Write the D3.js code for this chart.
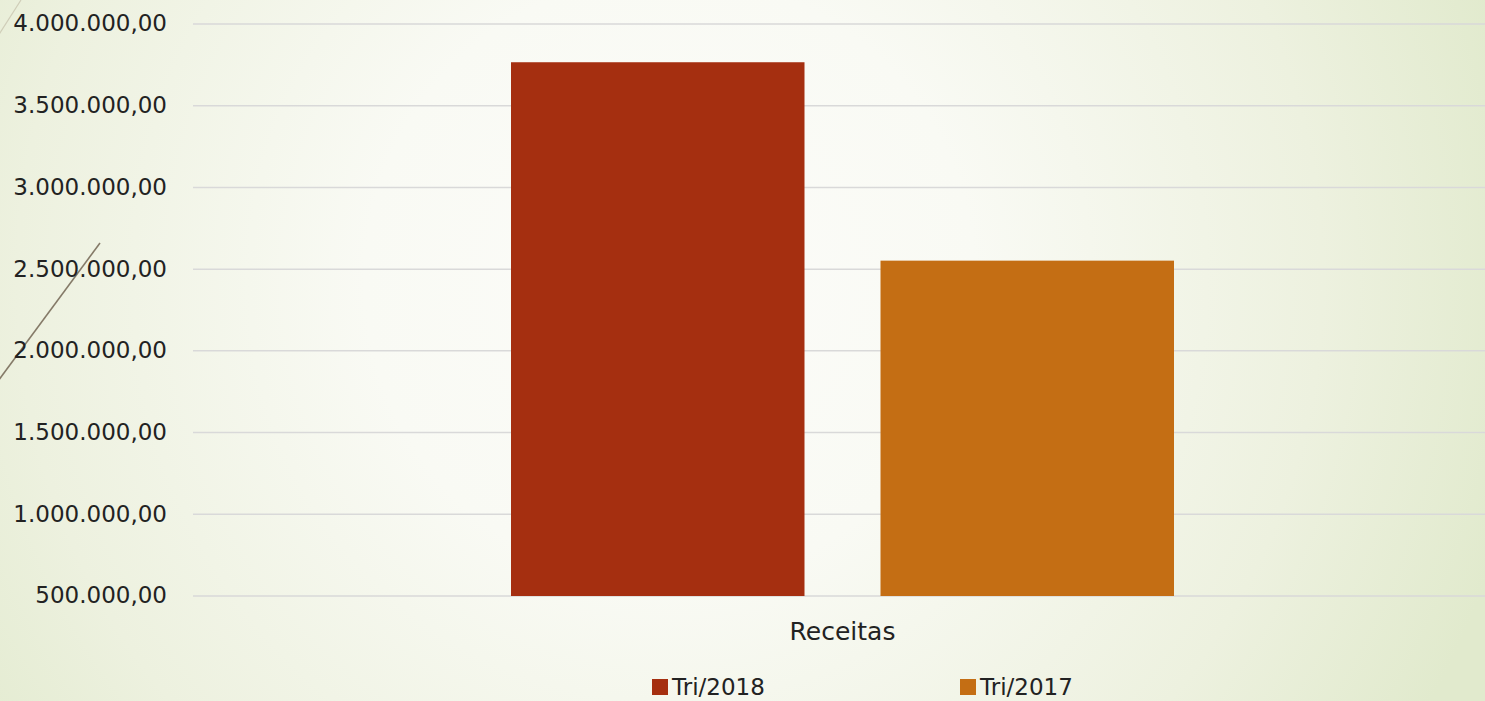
<!DOCTYPE html>
<html>
<head>
<meta charset="utf-8">
<script src="https://cdn.jsdelivr.net/npm/d3@7"></script>
<style>
  html, body { margin: 0; padding: 0; overflow: hidden; }
  svg { display: block; font-family: 'DejaVu Sans', sans-serif; }
</style>
</head>
<body>
<svg id="chart" width="1485" height="701"></svg>
<script>
const categories = ['Receitas']
const series = ['Tri/2018', 'Tri/2017']
const values = [[3766000, 2552000]]
const colors = ['#a52f10', '#c46e14']
const yTicks = [500000, 1000000, 1500000, 2000000, 2500000, 3000000, 3500000, 4000000]

const W = 1485
const H = 701
const svg = d3.select('#chart')

// background
const defs = svg.append('defs')
const grad = defs.append('radialGradient')
  .attr('id', 'bg')
  .attr('gradientUnits', 'userSpaceOnUse')
  .attr('cx', 670).attr('cy', 280).attr('r', 870)
grad.append('stop').attr('offset', '0').attr('stop-color', '#fcfcf9')
grad.append('stop').attr('offset', '0.35').attr('stop-color', '#f9faf4')
grad.append('stop').attr('offset', '0.75').attr('stop-color', '#edf1df')
grad.append('stop').attr('offset', '1').attr('stop-color', '#e1eacd')
svg.append('rect').attr('width', W).attr('height', H).attr('fill', 'url(#bg)')

// decorative strokes on the left
svg.append('line')
  .attr('x1', 21).attr('y1', 0).attr('x2', -2).attr('y2', 36)
  .attr('stroke', '#cfcdb8').attr('stroke-width', 1.2)
svg.append('line')
  .attr('x1', 100).attr('y1', 243).attr('x2', -2).attr('y2', 381)
  .attr('stroke', '#857a68').attr('stroke-width', 1.6)

const plotLeft = 193
const plotRight = 1492
const y = d3.scaleLinear().domain([500000, 4000000]).range([596, 24])
const x0 = d3.scaleBand().domain(categories).range([plotLeft, plotRight])
const x1 = d3.scaleBand().domain(series).range([0, 663]).paddingInner(0.2057)
const groupOffset = (x0.bandwidth() - 663) / 2

// grid
svg.append('g')
  .selectAll('line')
  .data(yTicks)
  .join('line')
  .attr('x1', plotLeft).attr('x2', W)
  .attr('y1', d => y(d)).attr('y2', d => y(d))
  .attr('stroke', '#d9d9d9').attr('stroke-width', 1.5)

// y labels
const fmt = d3.formatLocale({ decimal: ',', thousands: '.', grouping: [3], currency: ['', ''] }).format(',.2f')
svg.append('g')
  .selectAll('text')
  .data(yTicks)
  .join('text')
  .attr('x', 167)
  .attr('y', d => y(d))
  .attr('dy', '0.32em')
  .attr('text-anchor', 'end')
  .attr('font-size', 23)
  .attr('fill', '#222')
  .text(d => fmt(d))

// bars
const groups = svg.append('g')
  .selectAll('g')
  .data(categories)
  .join('g')
  .attr('transform', d => `translate(${x0(d) + groupOffset},0)`)
groups.selectAll('rect')
  .data((d, i) => series.map((s, j) => ({ s, v: values[i][j], c: colors[j] })))
  .join('rect')
  .attr('x', d => x1(d.s))
  .attr('width', x1.bandwidth())
  .attr('y', d => y(d.v))
  .attr('height', d => y(500000) - y(d.v))
  .attr('fill', d => d.c)

// category label
svg.append('g')
  .selectAll('text')
  .data(categories)
  .join('text')
  .attr('x', d => x0(d) + x0.bandwidth() / 2)
  .attr('y', 640)
  .attr('text-anchor', 'middle')
  .attr('font-size', 25)
  .attr('fill', '#222')
  .text(d => d)

// legend
const legendX = [652, 960]
const legend = svg.append('g')
  .selectAll('g')
  .data(series)
  .join('g')
  .attr('transform', (d, i) => `translate(${legendX[i]},679)`)
legend.append('rect')
  .attr('width', 16).attr('height', 16)
  .attr('fill', (d, i) => colors[i])
legend.append('text')
  .attr('x', 20).attr('y', 16)
  .attr('font-size', 23)
  .attr('fill', '#222')
  .text(d => d)
</script>
</body>
</html>
